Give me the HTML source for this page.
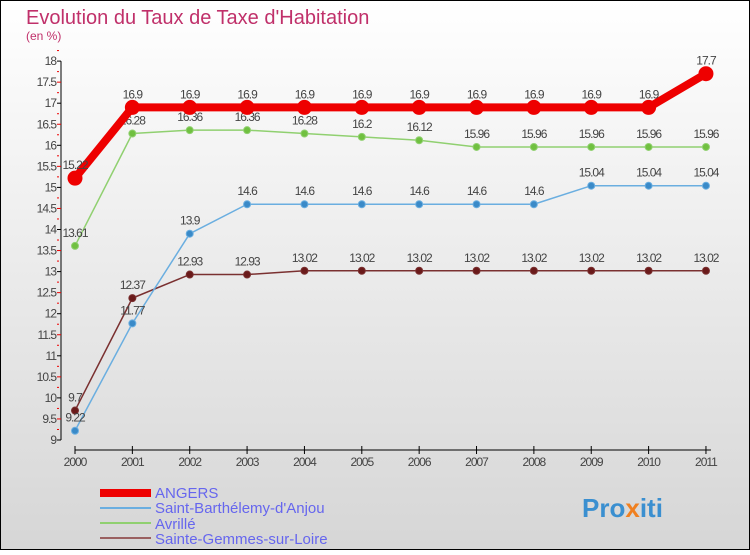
<!DOCTYPE html>
<html><head><meta charset="utf-8"><style>
body{margin:0}
#c{width:750px;height:550px;position:relative;font-family:"Liberation Sans",sans-serif}
</style></head><body>
<div id="c">
<svg id="s" width="750" height="550" xmlns="http://www.w3.org/2000/svg">
<defs><linearGradient id="bg" x1="0" y1="0" x2="0" y2="1"><stop offset="0" stop-color="#ffffff"/><stop offset="1" stop-color="#d6d6d6"/></linearGradient></defs>
<rect x="0.5" y="0.5" width="749" height="549" fill="url(#bg)" stroke="#000"/>
<text x="26" y="24" font-size="20" fill="#c0306a">Evolution du Taux de Taxe d'Habitation</text>
<text x="26" y="40" font-size="12" fill="#c0306a">(en %)</text>
<g id="axes"></g><g id="series"></g>
<g>
<rect x="100" y="489" width="51" height="8" fill="#e00"/>
<text x="155" y="498" font-size="15" fill="#6666ee">ANGERS</text>
<line x1="100" y1="508" x2="151" y2="508" stroke="#6aaee0" stroke-width="2"/>
<text x="155" y="513" font-size="15" fill="#6666ee">Saint-Barthélemy-d'Anjou</text>
<line x1="100" y1="523" x2="151" y2="523" stroke="#90d070" stroke-width="2"/>
<text x="155" y="529" font-size="15" fill="#6666ee">Avrillé</text>
<line x1="100" y1="538" x2="151" y2="538" stroke="#9a6060" stroke-width="2"/>
<text x="155" y="544" font-size="15" fill="#6666ee">Sainte-Gemmes-sur-Loire</text>
</g>
<text x="582" y="517" font-size="26" font-weight="bold" fill="#3a8fd0">Pro<tspan fill="#f08020">x</tspan>iti</text>
</svg>
</div>
<script>
const years=[2000,2001,2002,2003,2004,2005,2006,2007,2008,2009,2010,2011];
const yTicks=[9,9.5,10,10.5,11,11.5,12,12.5,13,13.5,14,14.5,15,15.5,16,16.5,17,17.5,18];
const angers=[15.22,16.9,16.9,16.9,16.9,16.9,16.9,16.9,16.9,16.9,16.9,17.7];
const stBarth=[9.22,11.77,13.9,14.6,14.6,14.6,14.6,14.6,14.6,15.04,15.04,15.04];
const avrille=[13.61,16.28,16.36,16.36,16.28,16.2,16.12,15.96,15.96,15.96,15.96,15.96];
const steGemmes=[9.7,12.37,12.93,12.93,13.02,13.02,13.02,13.02,13.02,13.02,13.02,13.02];
const NS="http://www.w3.org/2000/svg";
const X=i=>75+i*57.36;
const Y=v=>440-(v-9)*42.1;
function mk(t,a,p){const e=document.createElementNS(NS,t);for(const k in a)e.setAttribute(k,a[k]);p.appendChild(e);return e;}
const ax=document.getElementById('axes');
const yl=mk('line',{x1:61,y1:Y(18),x2:61,y2:Y(9),stroke:'#000'},ax);


yTicks.forEach((v,i)=>{
 mk('line',{x1:57,y1:Y(v),x2:61,y2:Y(v),stroke:i%2?'#e00':'#000'},ax);
 mk('line',{x1:57,y1:(Y(v)+Y(v+0.5))/2,x2:59,y2:(Y(v)+Y(v+0.5))/2,stroke:'#e00'},ax);
 const t=mk('text',{x:56,y:Y(v)+4,'font-size':12,fill:'#444','text-anchor':'end','letter-spacing':'-1'},ax);
 t.textContent=v;
 
 
});
const xl=mk('line',{x1:X(0),y1:450,x2:X(11)+5,y2:450,stroke:'#000'},ax);


years.forEach((y,i)=>{
 mk('line',{x1:X(i),y1:446,x2:X(i),y2:454,stroke:'#000'},ax);
 const t=mk('text',{x:X(i),y:466,'font-size':12,fill:'#444','text-anchor':'middle','letter-spacing':'-1'},ax);
 t.textContent=y;
 
 
});
const sg=document.getElementById('series');
function series(vals,name,col,w,r,fill){
 const g=mk('g',{},sg);
 
 
 mk('polyline',{points:vals.map((v,i)=>X(i)+','+Y(v)).join(' '),fill:'none',stroke:col,'stroke-width':w,'stroke-linejoin':'round'},g);
 vals.forEach((v,i)=>{
  const c=mk('circle',{cx:X(i),cy:Y(v),r:r,fill:fill,stroke:col,'stroke-width':1},g);
  
  
  const t=mk('text',{x:X(i),y:Y(v)-9,'font-size':12,fill:'#444','text-anchor':'middle','letter-spacing':'-1'},g);
  t.textContent=v;
  
  
 });
}
series(steGemmes,'sainte-gemmes-series','#7a3030',1.5,3.5,'#6a1a1a');
series(stBarth,'saint-barthelemy-series','#6aaee0',1.5,3.5,'#3a8ac8');
series(avrille,'avrille-series','#90d070',1.5,3.5,'#70c040');
series(angers,'angers-series','#e00',8,7,'#e00');
</script>
</body></html>
